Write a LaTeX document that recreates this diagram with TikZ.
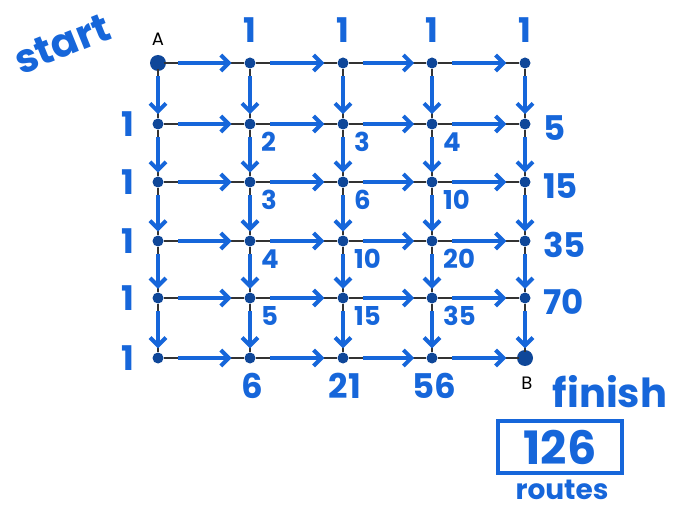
\documentclass[tikz,border=0pt]{standalone}
\usepackage{fontspec}
\setmainfont{Poppins}
\usetikzlibrary{arrows.meta,calc}
\definecolor{pen}{RGB}{22,102,218}

\begin{document}
\begin{tikzpicture}[x=1pt, y=-1pt,
    dot/.style={circle, fill=pen!70!black, inner sep=0pt, minimum size=11pt},
    gridline/.style={black!80, line width=1.3pt},
    arrow/.style={-{Straight Barb[length=8pt, width=16pt]}, pen, line width=4pt},
    num/.style={text=pen, inner sep=0pt, font=\fontsize{26}{26}\selectfont\bfseries},
    edgenum/.style={text=pen, inner sep=0pt, font=\fontsize{34}{34}\selectfont\bfseries},
    hand/.style={text=pen, inner sep=0pt, font=\fontsize{40}{40}\selectfont\bfseries},
    letter/.style={inner sep=0pt, font=\fontsize{18}{18}\selectfont}
  ]
    \useasboundingbox (0,0) rectangle (681,508);

    % grid points
    \foreach \y [count=\r from 0] in {63,124,182,241,298,358}
      \foreach \x [count=\c from 0] in {158,250,343,432,525}
        \node[dot] (n\r\c) at (\x,\y) {};
    \node[dot, minimum size=16pt] (a) at (n00) {};
    \node[dot, minimum size=16pt] (b) at (n54) {};

    % grid lines and arrows
    \foreach \r in {0,...,5}
      \foreach \c in {0,...,3} {
        \pgfmathtruncatemacro\nxt{\c+1}
        \draw[gridline] (n\r\c) -- (n\r\nxt);
        \draw[arrow] ($(n\r\c)!0.22!(n\r\nxt)$) -- ($(n\r\c)!0.8!(n\r\nxt)$);
      }
    \foreach \c in {0,...,4}
      \foreach \r in {0,...,4} {
        \pgfmathtruncatemacro\nxt{\r+1}
        \draw[gridline] (n\r\c) -- (n\nxt\c);
        \draw[arrow] ($(n\r\c)!0.22!(n\nxt\c)$) -- ($(n\r\c)!0.84!(n\nxt\c)$);
      }

    % counts
    \foreach \c in {1,...,4}
      \node[edgenum] (top\c) at ($(n0\c)+(0,-33)$) {1};
    \foreach \r in {1,...,5}
      \node[edgenum] (left\r) at ($(n\r0)+(-30,0)$) {1};
    \foreach \r/\c/\v in {1/1/2, 1/2/3, 1/3/4,
                          2/1/3, 2/2/6, 2/3/10,
                          3/1/4, 3/2/10, 3/3/20,
                          4/1/5, 4/2/15, 4/3/35}
      \node[num, anchor=west] (l\r\c) at ($(n\r\c)+(11,18)$) {\v};
    \foreach \r/\v in {1/5, 2/15, 3/35, 4/70}
      \node[edgenum, anchor=west] (right\r) at ($(n\r4)+(18,4)$) {\v};
    \foreach \c/\v in {1/6, 2/21, 3/56}
      \node[edgenum] (bot\c) at ($(n5\c)+(2,28)$) {\v};

    % ends
    \node[letter] (la) at ($(a)+(0,-24)$) {A};
    \node[letter] (lb) at ($(b)+(2,25)$) {B};
    \node[hand, rotate=22] (start) at (62,44) {start};
    \node[hand] (finish) at (610,392) {finish};
    \node[draw=pen, line width=3.5pt, text=pen, minimum width=124pt, minimum height=52pt,
          font=\fontsize{46}{46}\selectfont\bfseries] (total) at (560,447) {126};
    \node[text=pen, font=\fontsize{28}{28}\selectfont\bfseries, inner sep=0pt] (routes) at (562,490) {routes};
\end{tikzpicture}
\end{document}
